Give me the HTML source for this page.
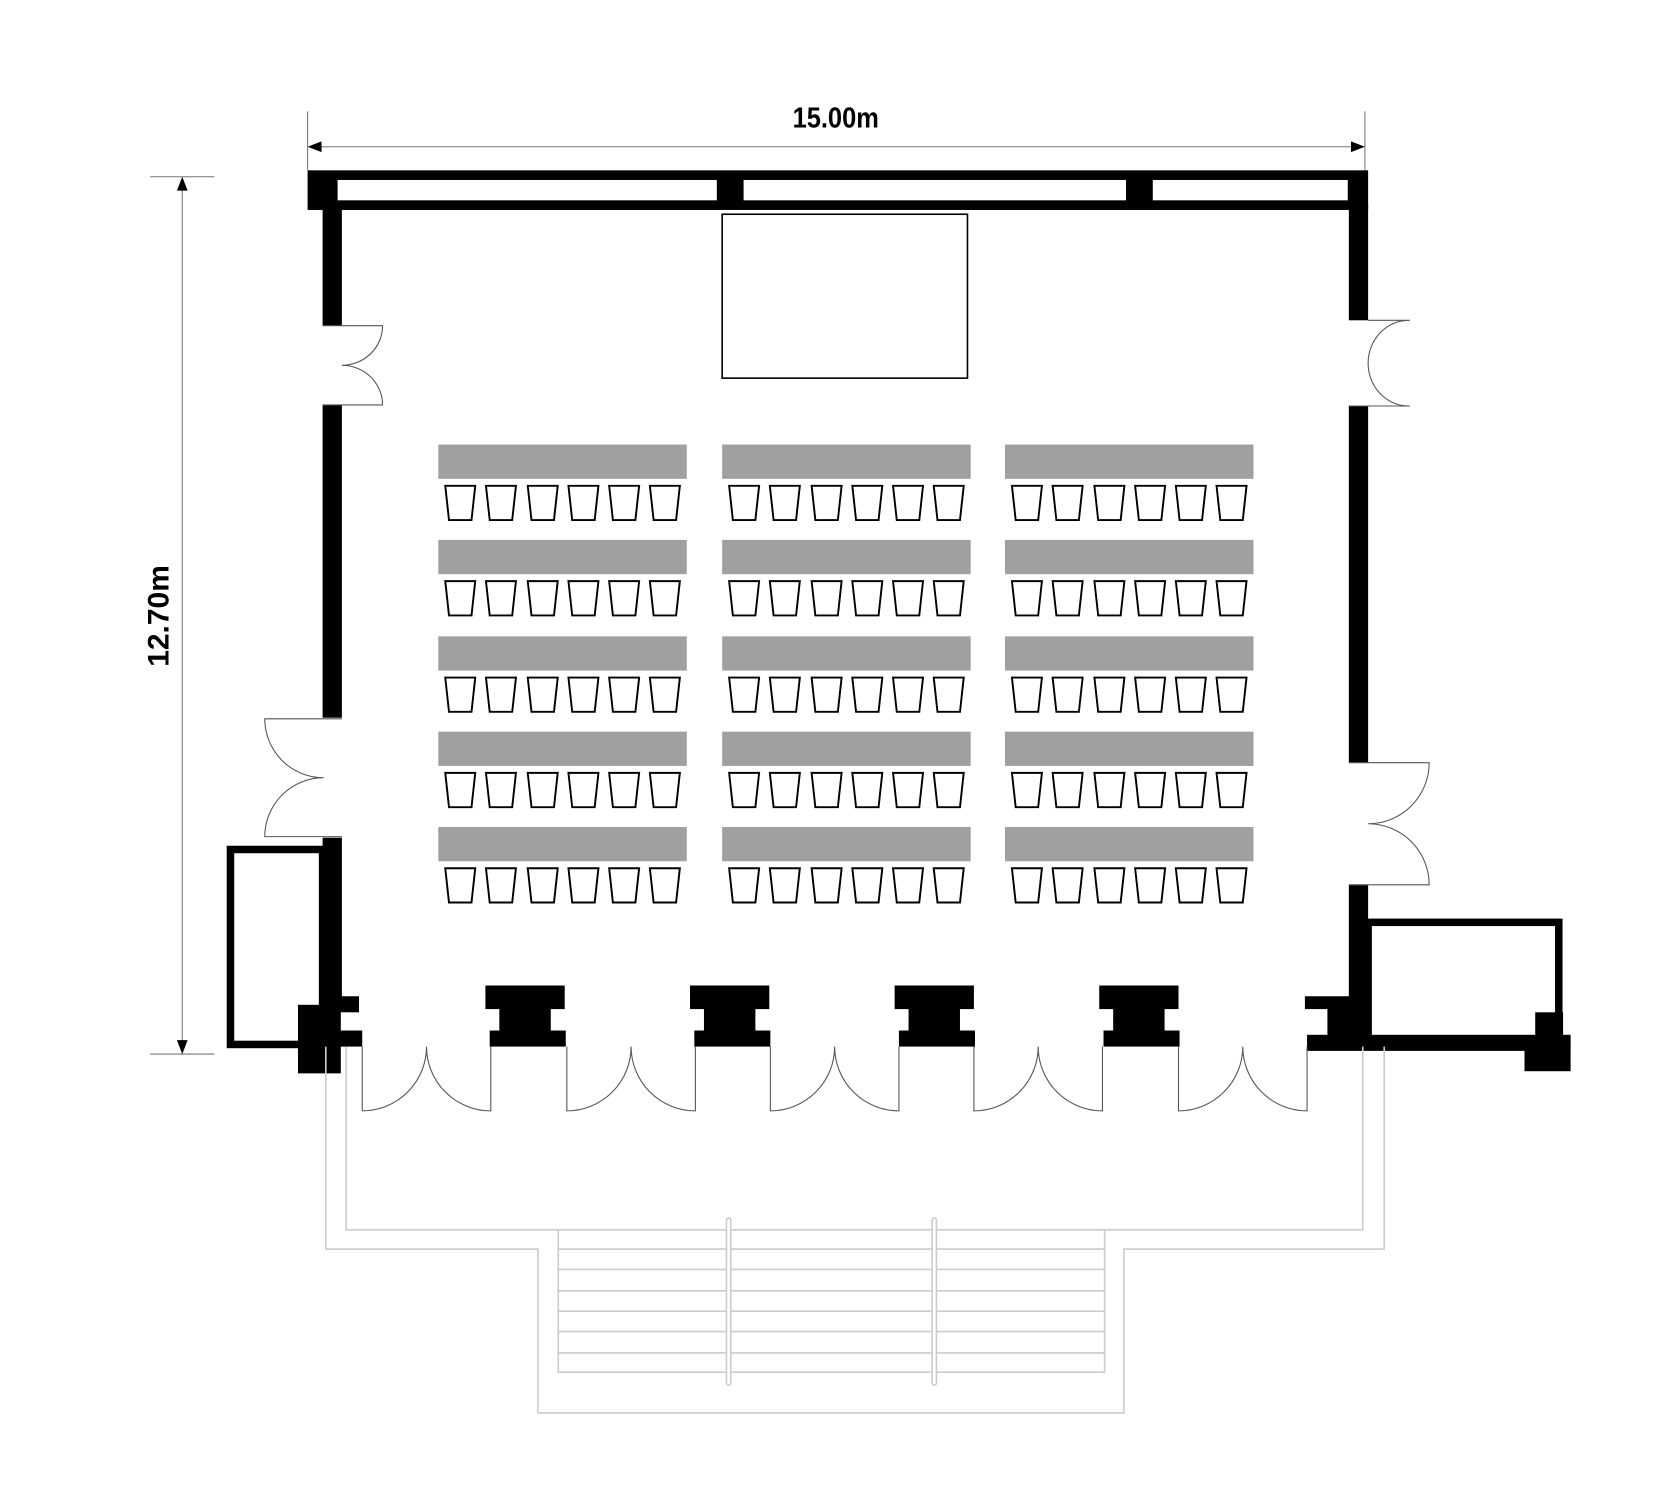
<!DOCTYPE html>
<html><head><meta charset="utf-8"><style>html,body{margin:0;padding:0;background:#fff}svg{display:block}</style></head>
<body>
<svg id="s" xmlns="http://www.w3.org/2000/svg" width="1680" height="1504" viewBox="0 0 1568 1404">
<defs>
<symbol id="ch" overflow="visible"><path d="M0.5,0.5 H28.5 L25,32.5 H4 Z" fill="#fff" stroke="#000" stroke-width="1.8"/></symbol>
</defs>
<rect width="1568" height="1404" fill="#fff"/>
<g stroke="#777" stroke-width="1" fill="none">
<line x1="287" y1="104" x2="287" y2="159"/><line x1="1274" y1="104" x2="1274" y2="159"/>
<line x1="290" y1="137" x2="1271" y2="137"/>
<line x1="140" y1="165" x2="200" y2="165"/><line x1="140" y1="984" x2="200" y2="984"/>
<line x1="170" y1="168" x2="170" y2="981"/>
</g>
<path d="M287,137 l13,-5 v10z M1274,137 l-13,-5 v10z M170,165 l-5,13 h10z M170,984 l-5,-13 h10z" fill="#000"/>
<text x="0" y="0" font-family="Liberation Sans, sans-serif" font-size="27" font-weight="bold" text-anchor="middle" fill="#000" transform="translate(780,119) scale(0.88,1)">15.00m</text>
<text x="0" y="0" font-family="Liberation Sans, sans-serif" font-size="28" font-weight="bold" text-anchor="middle" fill="#000" transform="translate(157,575) rotate(-90)">12.70m</text>
<rect x="287" y="159" width="990" height="37" fill="#000"/>
<rect x="315" y="168" width="354" height="19" fill="#fff"/>
<rect x="694" y="168" width="357" height="19" fill="#fff"/>
<rect x="1076" y="168" width="182" height="19" fill="#fff"/>
<rect x="301" y="190" width="18" height="114" fill="#000"/>
<rect x="301" y="378" width="18" height="292" fill="#000"/>
<rect x="301" y="782" width="18" height="160" fill="#000"/>
<rect x="1259" y="190" width="18" height="109" fill="#000"/>
<rect x="1259" y="379" width="18" height="333" fill="#000"/>
<rect x="1259" y="826" width="18" height="114" fill="#000"/>
<g stroke="#555" stroke-width="1" fill="none">
<path d="M301,304 H357 A38,37 0 0 1 319,341 A38,37 0 0 1 357,378 H301"/>
<path d="M319,671 H247 A55,55 0 0 0 302,726 A55,55 0 0 0 247,781 H319"/>
<path d="M1277,299 H1316 A38,40 0 0 0 1277,339 A38,40 0 0 0 1316,379 H1259"/>
<path d="M1259,712 H1334 A57,57 0 0 1 1277,769 A57,57 0 0 1 1334,826 H1259"/>
</g>
<rect x="674" y="200" width="229" height="153" fill="none" stroke="#000" stroke-width="1.5"/>
<g id="tables"></g>
<g fill="#000" id="pil"></g>
<rect x="215" y="793" width="86" height="182" fill="none" stroke="#000" stroke-width="7"/>
<rect x="278" y="938" width="40" height="64" fill="#000"/>
<rect x="301" y="930" width="34" height="15" fill="#000"/>
<rect x="301" y="962" width="37" height="15" fill="#000"/>
<rect x="1277" y="861" width="178" height="110" fill="none" stroke="#000" stroke-width="7"/>
<rect x="1218" y="930" width="60" height="12" fill="#000"/>
<rect x="1239" y="940" width="29" height="31" fill="#000"/>
<rect x="1220" y="966" width="246" height="15" fill="#000"/>
<rect x="1433" y="945" width="26" height="30" fill="#000"/>
<rect x="1423" y="968" width="43" height="32" fill="#000"/>
<rect x="1259" y="930" width="18" height="41" fill="#000"/>
<g stroke="#555" stroke-width="1" fill="none" id="fd"></g>
<g stroke="#ccc" stroke-width="1.5" fill="none">
<path d="M304,977 V1166 H502 V1319 H1049 V1166 H1292 V977"/>
<path d="M323,977 V1148 H1272 V977"/>
<path d="M521,1148 V1281 H1031 V1148"/>
<line x1="521" y1="1166" x2="1031" y2="1166"/><line x1="521" y1="1185" x2="1031" y2="1185"/>
<line x1="521" y1="1205" x2="1031" y2="1205"/><line x1="521" y1="1224" x2="1031" y2="1224"/>
<line x1="521" y1="1243" x2="1031" y2="1243"/><line x1="521" y1="1263" x2="1031" y2="1263"/>
<rect x="678" y="1137" width="4" height="156" rx="2" fill="#fff"/>
<rect x="870" y="1137" width="4" height="156" rx="2" fill="#fff"/>
</g>
</svg>
<script>
var NS="http://www.w3.org/2000/svg",t=document.getElementById('tables');
function el(n,a,p){var e=document.createElementNS(NS,n);for(var k in a)e.setAttribute(k,a[k]);p.appendChild(e);return e;}
[409,674,938].forEach(function(x){[415,504,594,683,772].forEach(function(y){
el('rect',{x:x,y:y,width:232,height:32,fill:'#a0a0a0'},t);
[6,44,83,121,159,197].forEach(function(o){el('use',{href:'#ch',x:x+o,y:y+38},t);});});});
var p=document.getElementById('pil');
[490,681,872,1063].forEach(function(c){
el('rect',{x:c-37,y:920,width:74,height:22},p);
el('rect',{x:c-24,y:940,width:48,height:24},p);
el('rect',{x:c-33,y:962,width:71,height:15},p);});
var f=document.getElementById('fd');
[338,529,719,909,1100].forEach(function(a){var b=a+120,m=a+60;
el('path',{d:'M'+a+',977 V1037 A60,60 0 0 0 '+m+',977 A60,60 0 0 0 '+b+',1037 V977'},f);});
</script>
</body></html>
